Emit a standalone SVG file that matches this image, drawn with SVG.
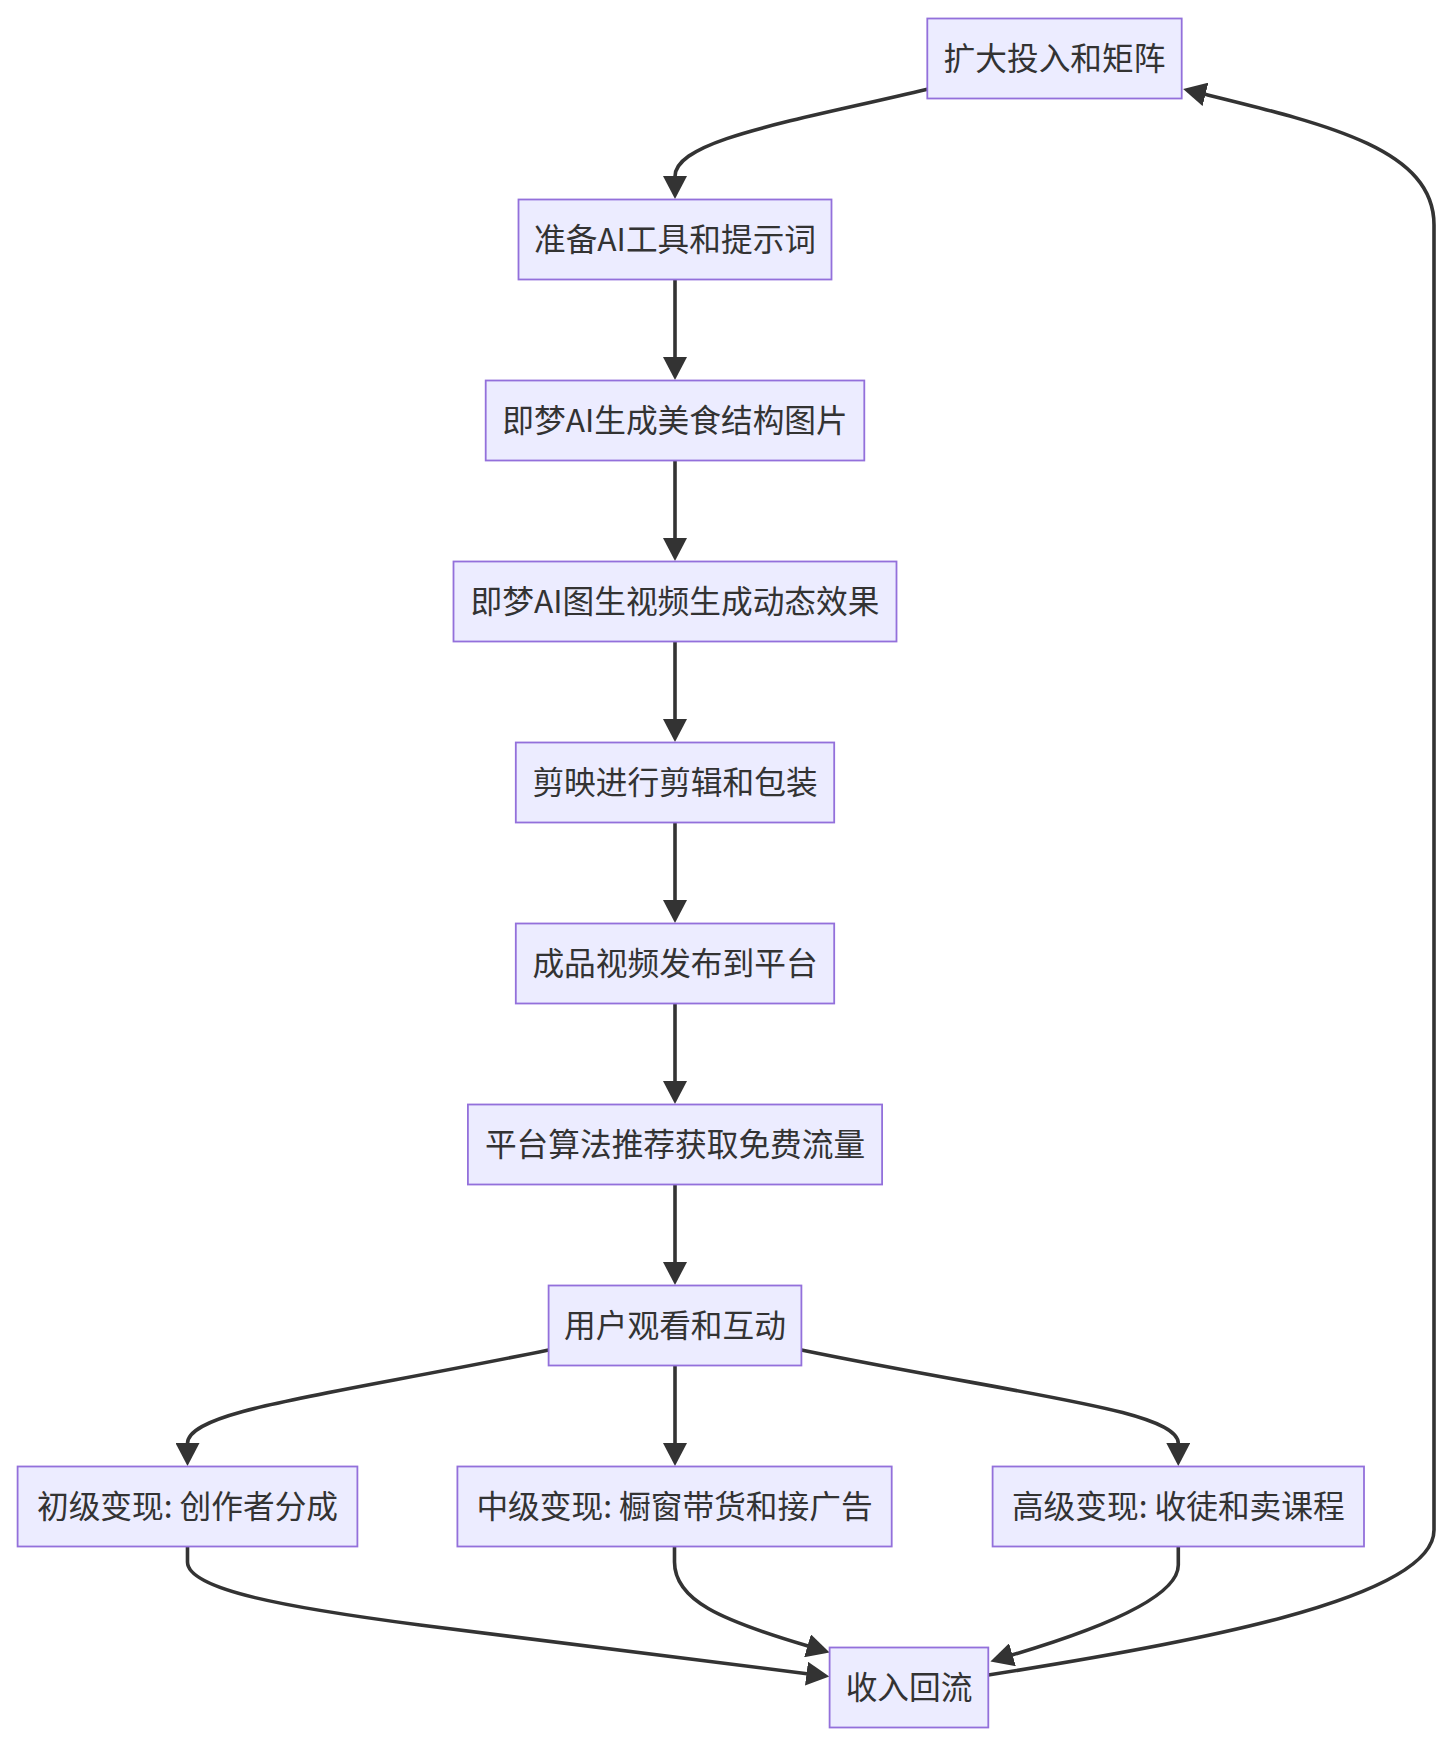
<svg xmlns="http://www.w3.org/2000/svg" width="1452" height="1746" viewBox="0 0 1452 1746">
<style>
.node rect{fill:#ECECFF;stroke:#9370DB;stroke-width:1.8}
.node text{font-family:"Noto Sans CJK SC","Noto Sans",sans-serif;font-size:31.7px;fill:#333333;text-anchor:middle;dominant-baseline:central}
.edges path{fill:none;stroke:#333333;stroke-width:3.6;marker-end:url(#arrow)}
</style>
<defs>
<marker id="arrow" markerUnits="userSpaceOnUse" viewBox="0 0 23 24" refX="0.5" refY="12" markerWidth="23" markerHeight="24" orient="auto">
<path d="M0,0 L23,12 L0,24 z" fill="#333333"/>
</marker>
</defs>
<rect width="1452" height="1746" fill="#ffffff"/>
<g class="edges">
<path d="M927.3,89.3 C790,122 675,140 675,176.5"/>
<path d="M675,279.5 L675,357.5"/>
<path d="M675,460.5 L675,538.5"/>
<path d="M675,641.5 L675,719.5"/>
<path d="M675,822.5 L675,900.5"/>
<path d="M675,1003.5 L675,1081.5"/>
<path d="M675,1184.5 L675,1262.5"/>
<path d="M675,1365.5 L675,1443.5"/>
<path d="M548.6,1350 C330,1395 187.5,1410 187.5,1443.5"/>
<path d="M801.4,1350 C1020,1395 1178.3,1410 1178.3,1443.5"/>
<path d="M187.5,1546.5 L187.5,1562 C187.5,1590 290,1608 420,1625 L807,1673.7"/>
<path d="M674.5,1546.5 L674.5,1562 C674.5,1600 720,1620 808,1646"/>
<path d="M1178.3,1546.5 L1178.3,1565 C1178.3,1590 1130,1620 1012,1655"/>
<path d="M988.3,1675 C1180,1645 1434,1600 1434,1530 L1434,225 C1434,150 1330,125 1205,94.3"/>
</g>
<g id="n1" class="node"><rect x="927.3" y="18.5" width="254.4" height="80"/><text x="1054.5" y="55.5">扩大投入和矩阵</text></g>
<g id="n2" class="node"><rect x="518.5" y="199.5" width="313" height="80"/><text x="675" y="236.5">准备AI工具和提示词</text></g>
<g id="n3" class="node"><rect x="485.7" y="380.5" width="378.6" height="80"/><text x="675" y="417.5">即梦AI生成美食结构图片</text></g>
<g id="n4" class="node"><rect x="453.5" y="561.5" width="443" height="80"/><text x="675" y="598.5">即梦AI图生视频生成动态效果</text></g>
<g id="n5" class="node"><rect x="515.8" y="742.5" width="318.4" height="80"/><text x="675" y="779.5">剪映进行剪辑和包装</text></g>
<g id="n6" class="node"><rect x="515.8" y="923.5" width="318.4" height="80"/><text x="675" y="960.5">成品视频发布到平台</text></g>
<g id="n7" class="node"><rect x="467.9" y="1104.5" width="414.2" height="80"/><text x="675" y="1141.5">平台算法推荐获取免费流量</text></g>
<g id="n8" class="node"><rect x="548.6" y="1285.5" width="252.8" height="80"/><text x="675" y="1322.5">用户观看和互动</text></g>
<g id="n9" class="node"><rect x="17.6" y="1466.5" width="339.8" height="80"/><text x="187.5" y="1503.5">初级变现: 创作者分成</text></g>
<g id="n10" class="node"><rect x="457.4" y="1466.5" width="434.3" height="80"/><text x="674.5" y="1503.5">中级变现: 橱窗带货和接广告</text></g>
<g id="n11" class="node"><rect x="992.6" y="1466.5" width="371.4" height="80"/><text x="1178.3" y="1503.5">高级变现: 收徒和卖课程</text></g>
<g id="n12" class="node"><rect x="829.6" y="1647.5" width="158.7" height="80"/><text x="909" y="1684.5">收入回流</text></g>
</svg>
